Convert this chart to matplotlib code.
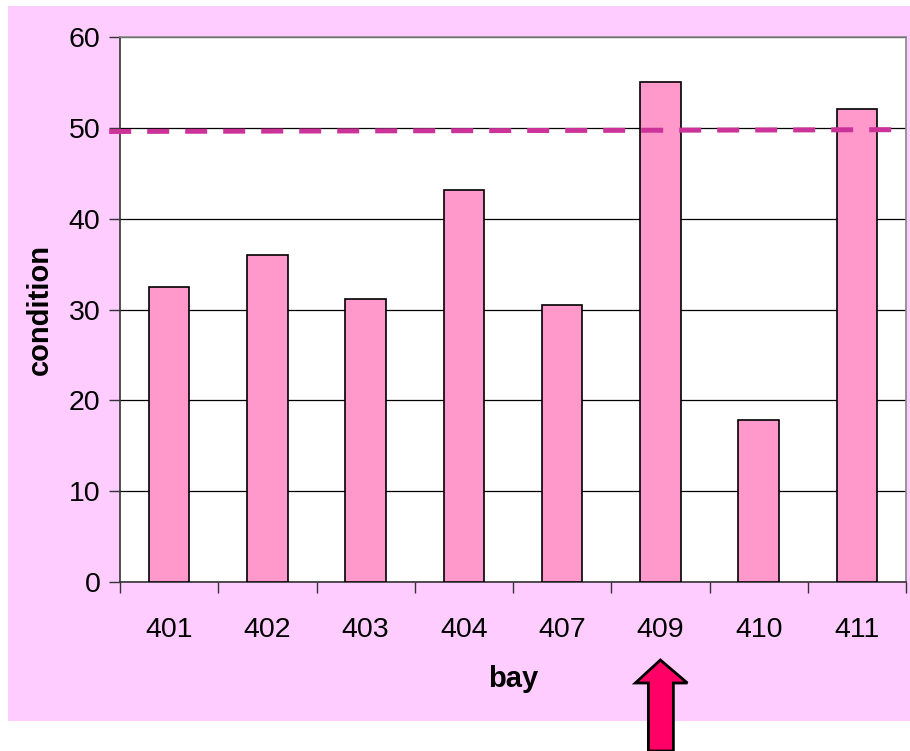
import matplotlib
matplotlib.use("Agg")
import matplotlib.pyplot as plt
from matplotlib.patches import Rectangle, Polygon
from matplotlib.lines import Line2D
import matplotlib.transforms as mtransforms

bays = ["401", "402", "403", "404", "407", "409", "410", "411"]
condition = [32.5, 36.0, 31.2, 43.2, 30.5, 55.1, 17.8, 52.1]
threshold = [49.6, 49.8]
highlight_bay = "409"
y_ticks = [0, 10, 20, 30, 40, 50, 60]

plt.rcParams["font.family"] = ["Liberation Sans", "DejaVu Sans"]

W, H = 910, 751
fig = plt.figure(figsize=(W / 100, H / 100), dpi=100)
fig.patch.set_facecolor("white")

# pink chart-area backdrop
fig.patches.append(Rectangle((8 / W, (H - 721) / H), (W - 8) / W, (721 - 6) / H,
                             transform=fig.transFigure, facecolor="#FFCCFF",
                             edgecolor="none", zorder=-5))

ax = fig.add_axes([120 / W, (H - 582) / H, 786 / W, 545 / H])
ax.set_zorder(1)
ax.set_facecolor("white")

x = list(range(len(bays)))
ax.bar(x, condition, width=0.41, color="#FF99CC", edgecolor="black",
       linewidth=1.2, zorder=3)

ax.set_xlim(-0.5, len(bays) - 0.5)
ax.set_ylim(0, 60)
ax.set_yticks(y_ticks)
ax.yaxis.grid(True, color="black", linewidth=0.9, zorder=0)
ax.set_axisbelow(True)

ax.set_xticks(x)
ax.set_xticklabels(bays, fontsize=20.5)
ax.tick_params(axis="x", which="major", length=0, pad=25)
ax.set_xticks([i - 0.5 for i in range(len(bays) + 1)], minor=True)
ax.tick_params(axis="x", which="minor", length=8, width=1, color="#333333", direction="out")
ax.tick_params(axis="y", length=8, width=1, color="#333333", labelsize=20.5, pad=6)

for side in ("top", "right"):
    ax.spines[side].set_color("#888888")
    ax.spines[side].set_linewidth(1.2)
for side in ("left", "bottom"):
    ax.spines[side].set_color("#333333")
    ax.spines[side].set_linewidth(1.2)

ax.set_ylabel("condition", fontsize=21, fontweight="bold")
ax.yaxis.label.set_va("center")
ax.yaxis.set_label_coords((40 - 120) / 786, 0.5)
ax.set_xlabel("bay", fontsize=21, fontweight="bold")
ax.xaxis.label.set_va("center")
ax.xaxis.set_label_coords(0.5, (582 - 679) / 545)

# dashed reference level
ax.add_line(Line2D([-0.61, len(bays) - 0.5], threshold, color="#CC3399",
                   linewidth=3.6, dashes=(4.4, 3.2), clip_on=False, zorder=4))

# arrow marking the highlighted bay
xi = bays.index(highlight_bay)
trans = mtransforms.blended_transform_factory(ax.transData, fig.transFigure)
dx = 1 / 98.25
tip_y, head_y, bottom_y = 660, 683, 751
arrow = [
    (xi, (H - tip_y) / H),
    (xi + 27 * dx, (H - head_y) / H),
    (xi + 13 * dx, (H - head_y) / H),
    (xi + 13 * dx, (H - bottom_y) / H),
    (xi - 12 * dx, (H - bottom_y) / H),
    (xi - 12 * dx, (H - head_y) / H),
    (xi - 25 * dx, (H - head_y) / H),
]
fig.patches.append(Polygon(arrow, closed=True, transform=trans,
                           facecolor="#FF0066", edgecolor="black",
                           linewidth=2, zorder=5))

fig.savefig("out.png", dpi=100)
